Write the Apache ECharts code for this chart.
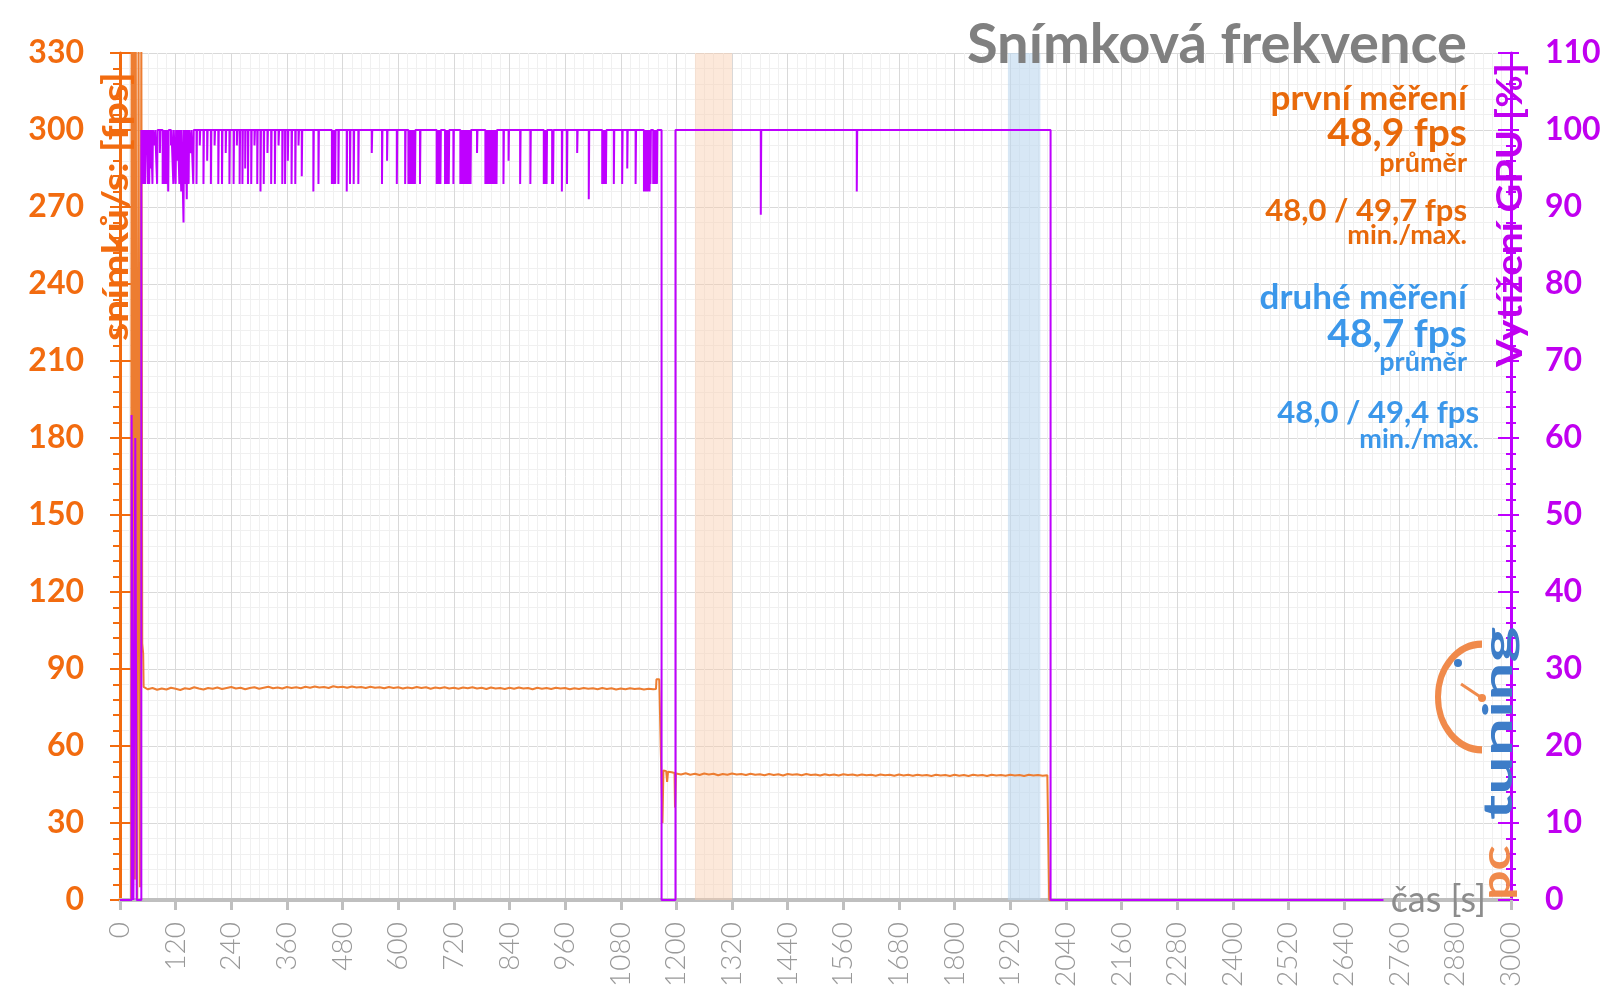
<!DOCTYPE html>
<html><head><meta charset="utf-8">
<script src="https://cdn.jsdelivr.net/npm/echarts@6/dist/echarts.min.js"></script>
<style>html,body{margin:0;padding:0;background:#fff}#c{width:1600px;height:998px}</style>
</head><body><div id="c"></div>
<script>
// ---- data ----
const chartTitle = 'Snímková frekvence';
const xAxisName = 'čas [s]';
const yLeftName = 'snímků/s: [fps]';
const yRightName = 'Vytížení GPU [%]';
const xRange = [0, 3000, 120];
const yLeftRange = [0, 330, 30];
const yRightRange = [0, 110, 10];
const bandFirst = [1240, 1320];
const bandSecond = [1915, 1985];
const firstLabels = ['první měření', '48,9 fps', 'průměr', '48,0 / 49,7 fps', 'min./max.'];
const secondLabels = ['druhé měření', '48,7 fps', 'průměr', '48,0 / 49,4 fps', 'min./max.'];

// frame rate [time s, fps]
const fpsData = [
[0,0],[24,0],[25,335],[27,340],[28,20],[30,340],[32,8],[34,340],[37,0],[40,340],[43,5],[46,340],[48,100],[50,96],[51,83],
[60,82.1],[70,82.6],[80,81.9],[90,82.4],[100,82.0],[110,82.7],[120,82.3],[130,81.8],[140,82.5],[150,82.2],[160,82.9],[170,82.4],[180,82.0],[190,82.6],[200,82.3],[210,82.8],[220,82.2],[230,82.6],[240,83.0],[250,82.4],[260,82.7],[270,82.1],[280,82.6],[290,82.9],[300,82.3],[310,82.7],[320,83.1],[330,82.5],[340,82.8],[350,82.4],[360,83.0],[370,82.6],[380,82.9],[390,82.5],[400,83.1],[410,82.7],[420,83.2],[430,82.8],[440,83.0],[450,82.6],[460,83.3],[470,82.9],[480,83.1],[490,82.7],[500,83.2],[510,82.8],[520,83.0],[530,82.6],[540,83.1],[550,82.7],[560,82.9],[570,82.5],[580,83.0],[590,82.6],[600,82.9],[610,82.4],[620,82.8],[630,82.5],[640,83.0],[650,82.6],[660,82.9],[670,82.3],[680,82.8],[690,82.5],[700,82.9],[710,82.4],[720,82.7],[730,82.3],[740,82.8],[750,82.5],[760,82.9],[770,82.4],[780,82.7],[790,82.2],[800,82.8],[810,82.4],[820,82.6],[830,82.2],[840,82.7],[850,82.3],[860,82.8],[870,82.4],[880,82.6],[890,82.1],[900,82.7],[910,82.3],[920,82.6],[930,82.2],[940,82.7],[950,82.4],[960,82.6],[970,82.1],[980,82.5],[990,82.2],[1000,82.6],[1010,82.3],[1020,82.5],[1030,82.1],[1040,82.6],[1050,82.2],[1060,82.5],[1070,82.0],[1080,82.4],[1090,82.1],[1100,82.5],[1110,82.2],[1120,82.4],[1130,82.0],[1140,82.3],[1150,82.1],[1156,82.2],[1157,86.0],[1163,86.0],[1165,85.5],[1168,45],[1170,30],[1172,50.5],[1178,50.2],[1180,46],[1182,50.0],[1190,49.8],[1196,49.5],[1197,36],[1199,49.3],
[1210,48.9],[1220,49.4],[1230,48.8],[1240,49.2],[1250,48.7],[1260,49.3],[1270,48.9],[1280,49.2],[1290,48.6],[1300,49.1],[1310,48.8],[1320,49.3],[1330,48.9],[1340,49.1],[1350,48.7],[1360,49.2],[1370,48.8],[1380,49.0],[1390,48.6],[1400,49.1],[1410,48.7],[1420,49.0],[1430,48.5],[1440,49.1],[1450,48.8],[1460,49.0],[1470,48.6],[1480,49.1],[1490,48.7],[1500,48.9],[1510,48.5],[1520,49.0],[1530,48.6],[1540,48.9],[1550,48.5],[1560,49.0],[1570,48.7],[1580,48.9],[1590,48.5],[1600,48.9],[1610,48.6],[1620,48.8],[1630,48.4],[1640,48.9],[1650,48.6],[1660,48.8],[1670,48.4],[1680,48.9],[1690,48.5],[1700,48.8],[1710,48.4],[1720,48.8],[1730,48.5],[1740,48.7],[1750,48.3],[1760,48.8],[1770,48.5],[1780,48.7],[1790,48.3],[1800,48.8],[1810,48.4],[1820,48.7],[1830,48.3],[1840,48.8],[1850,48.5],[1860,48.7],[1870,48.3],[1880,48.8],[1890,48.5],[1900,48.7],[1910,48.4],[1920,48.8],[1930,48.5],[1940,48.7],[1950,48.3],[1960,48.8],[1970,48.5],[1980,48.7],[1990,48.4],[2000,48.6],[2003,48.5],[2004,0],[2010,0]
];

// GPU load [time s, %] – each value holds until the next point
const gpuData = [
[0,0],[25,63],[29,0],[33,60],[36,0],[46,100],
[48,93],[49,100],[50,96],[51,100],[52,93],[53,100],[54,93],[55,100],[57,98],[58,100],[60,93],[61,100],[63,93],[64,100],[66,95],[67,100],[70,93],[71,100],[75,98],[76,100],[80,93],[81,100],[86,97],[87,100],[92,93],[93,100],[95,93],[96,100],[98,93],[99,100],[101,93],[102,100],[104,92],[105,100],[110,98],[111,100],[115,93],[116,100],[120,93],[121,100],[124,96],[125,100],[128,93],[129,100],[132,92],[133,100],[137,88],[138,100],[141,93],[142,100],[144,91],[145,100],[148,93],[149,100],[153,97],[154,100],[158,93],[159,100],[165,93],[166,100],[172,98],[173,100],[180,93],[181,100],[188,96],[189,100],[196,93],[197,100],[204,98],[205,100],[212,93],[213,100],[220,93],[221,100],[228,97],[229,100],[236,93],[237,100],[245,93],[246,100],[252,98],[253,100],[258,93],[259,100],[264,93],[265,100],[270,95],[271,100],[276,93],[277,100],[283,93],[284,100],[290,98],[291,100],[296,93],[297,100],[303,92],[304,100],[310,93],[311,100],[318,97],[319,100],[326,93],[327,100],[334,93],[335,100],[342,98],[343,100],[350,93],[351,100],[356,93],[357,100],[362,96],[363,100],[370,93],[371,100],[378,93],[379,100],[385,98],[386,100],
[392,94],[393,100],[417,92],[418,100],[428,93],[429,100],[457,93],[458,100],[460,93],[461,100],[464,93],[465,100],[471,93],[472,100],[489,92],[490,100],[496,93],[497,100],[504,93],[505,100],[514,93],[515,100],[543,97],[544,100],[565,93],[566,100],[576,96],[577,100],[597,93],[598,100],[615,93],[616,100],
[622,93],[623,100],[624,93],[625,100],[626,93],[627,100],[628,93],[629,100],[630,93],[631,100],[632,93],[633,100],[634,93],[635,100],[636,93],[637,100],
[647,93],[648,100],
[683,93],[684,100],[685,93],[686,100],[687,93],[688,100],[689,93],[690,100],[691,93],[692,100],
[701,93],[702,100],[703,93],[704,100],[705,93],[706,100],[707,93],[708,100],[709,93],[710,100],
[719,93],[720,100],
[734,93],[735,100],[736,93],[737,100],[738,93],[739,100],[740,93],[741,100],[742,93],[743,100],[744,93],[745,100],[746,93],[747,100],[748,93],[749,100],[750,93],[751,100],[752,93],[753,100],[754,93],[755,100],[756,93],[757,100],
[770,97],[771,100],
[788,93],[789,100],[790,93],[791,100],[792,93],[793,100],[794,93],[795,100],[796,93],[797,100],[798,93],[799,100],[800,93],[801,100],[802,93],[803,100],[804,93],[805,100],[806,93],[807,100],[808,93],[809,100],[810,93],[811,100],[812,93],[813,100],
[827,93],[828,100],[838,96],[839,100],[863,93],[864,100],[885,93],[886,100],
[914,93],[915,100],[916,93],[917,100],[918,93],[919,100],[920,93],[921,100],
[932,93],[933,100],[934,93],[935,100],[953,92],[954,100],[964,93],[965,100],[986,97],[987,100],[1011,91],[1012,100],
[1040,93],[1041,100],[1042,93],[1043,100],[1044,93],[1045,100],[1046,93],[1047,100],[1048,93],[1049,100],
[1065,93],[1066,100],[1083,93],[1084,100],[1094,95],[1095,100],[1112,93],[1113,100],
[1130,92],[1131,100],[1132,93],[1133,100],[1134,92],[1135,100],[1136,93],[1137,100],[1138,92],[1139,100],[1140,93],[1141,100],[1142,92],[1143,100],[1144,93],[1145,100],
[1150,93],[1151,100],[1154,93],[1155,100],[1158,93],[1159,100],
[1168,0],[1198,100],[1382,89],[1383,100],[1589,92],[1590,100],[2007,0],[2725,0]
];

// ---- styling ----
const C_AX_OR = '#F26B0F';
const C_TXT_OR = '#E8690A';
const C_BLUE = '#3B97EA';
const C_PURPLE = '#C000F0';
const C_GPU = '#BF00FF';
const C_FPS = '#ED7D31';
const FONT = 'Lato';

const chart = echarts.init(document.getElementById('c'), null, {renderer: 'canvas'});

function txt(x, y, text, size, color, align, weight) {
  return {type: 'text', x: x, y: y, z: 50, silent: true,
    style: {text: text, fontFamily: FONT, fontSize: size, fontWeight: weight || 'bold', fill: color,
      textAlign: align || 'right', align: align || 'right', textVerticalAlign: 'middle', verticalAlign: 'middle'}};
}
function vtxt(x, y, text, size, color, sx) {
  return {type: 'text', x: x, y: y, z: 50, silent: true, rotation: Math.PI / 2, scaleX: sx || 1,
    style: {text: text, fontFamily: FONT, fontSize: size, fontWeight: 'bold', fill: color,
      textAlign: 'right', align: 'right', textVerticalAlign: 'middle', verticalAlign: 'middle'}};
}

const graphics = [
  txt(1467, 45, chartTitle, 56, '#808080'),
  txt(1467, 99, firstLabels[0], 35, C_TXT_OR),
  txt(1467, 133, firstLabels[1], 39, C_TXT_OR),
  txt(1467, 163, firstLabels[2], 27, C_TXT_OR),
  txt(1467, 211, firstLabels[3], 31, C_TXT_OR),
  txt(1467, 235, firstLabels[4], 27, C_TXT_OR),
  txt(1467, 298, secondLabels[0], 35, C_BLUE),
  txt(1467, 334, secondLabels[1], 39, C_BLUE),
  txt(1467, 362, secondLabels[2], 27, C_BLUE),
  txt(1479, 413, secondLabels[3], 31, C_BLUE),
  txt(1479, 439, secondLabels[4], 27, C_BLUE),
  txt(1486, 900, xAxisName, 36, '#8C8C8C', 'right', 'normal'),
  vtxt(116, 72, yLeftName, 36, C_AX_OR, 1.15),
  vtxt(1510, 63, yRightName, 36, C_PURPLE, 1.1),
  // logo
  {type: 'arc', x: 1482, y: 697, scaleY: 1.2, z: 40, silent: true,
    shape: {cx: 0, cy: 0, r: 44, startAngle: Math.PI * 0.5, endAngle: Math.PI * 1.5, clockwise: true},
    style: {stroke: '#F08A4B', lineWidth: 6, fill: null}},
  {type: 'line', z: 40, silent: true, shape: {x1: 1461, y1: 684, x2: 1482, y2: 698}, style: {stroke: '#F08A4B', lineWidth: 3}},
  {type: 'circle', z: 40, silent: true, shape: {cx: 1482, cy: 698, r: 4}, style: {fill: '#F08A4B'}},
  {type: 'circle', z: 40, silent: true, shape: {cx: 1458, cy: 663, r: 4}, style: {fill: '#3D7DC8'}},
  {type: 'text', x: 1499, y: 820, z: 40, silent: true, rotation: Math.PI / 2, scaleX: 1.7,
    style: {text: 'tuning', fontFamily: FONT, fontSize: 40, fontWeight: 'bold', fill: '#3D7DC8',
      textAlign: 'left', align: 'left', textVerticalAlign: 'middle', verticalAlign: 'middle'}},
  {type: 'text', x: 1497, y: 900, z: 40, silent: true, rotation: Math.PI / 2, scaleX: 1.3,
    style: {text: 'pc', fontFamily: FONT, fontSize: 40, fontWeight: 'bold', fill: '#F08A4B',
      textAlign: 'left', align: 'left', textVerticalAlign: 'middle', verticalAlign: 'middle'}}
];

const option = {
  animation: false,
  backgroundColor: '#ffffff',
  grid: {left: 120, right: 89, top: 53, bottom: 98, containLabel: false, outerBoundsMode: 'none'},
  xAxis: {
    type: 'value', min: xRange[0], max: xRange[1], interval: xRange[2],
    axisLine: {show: true, lineStyle: {color: '#BFBFBF', width: 4}},
    axisTick: {show: true, length: 10, lineStyle: {color: '#BFBFBF', width: 3}},
    minorTick: {show: false, splitNumber: 6},
    axisLabel: {rotate: 90, margin: 22, fontFamily: FONT, fontWeight: 300, fontSize: 28, color: '#999999',
      formatter: function (v) { return String(v); }},
    splitLine: {show: true, lineStyle: {color: '#D9D9D9', width: 1}},
    minorSplitLine: {show: true, lineStyle: {color: '#F0F0F0', width: 1}}
  },
  yAxis: [
    {
      type: 'value', position: 'left', min: yLeftRange[0], max: yLeftRange[1], interval: yLeftRange[2],
      axisLine: {show: true, lineStyle: {color: C_AX_OR, width: 3}},
      axisTick: {show: true, length: 10, lineStyle: {color: C_AX_OR, width: 2}},
      minorTick: {show: true, splitNumber: 5, length: 7, lineStyle: {color: C_AX_OR, width: 2}},
      axisLabel: {margin: 36, fontFamily: FONT, fontWeight: 'bold', fontSize: 32, color: C_AX_OR},
      splitLine: {show: true, lineStyle: {color: '#D9D9D9', width: 1}},
      minorSplitLine: {show: true, lineStyle: {color: '#F0F0F0', width: 1}}
    },
    {
      type: 'value', position: 'right', min: yRightRange[0], max: yRightRange[1], interval: yRightRange[2],
      axisLine: {show: true, lineStyle: {color: C_GPU, width: 3}},
      axisTick: {show: true, length: 8, lineStyle: {color: C_GPU, width: 2}},
      minorTick: {show: true, splitNumber: 5, length: 5, lineStyle: {color: C_GPU, width: 2}},
      axisLabel: {margin: 34, fontFamily: FONT, fontWeight: 'bold', fontSize: 32, color: C_PURPLE},
      splitLine: {show: false}
    },
    {
      type: 'value', position: 'left', min: yLeftRange[0], max: yLeftRange[1], interval: yLeftRange[2],
      axisLine: {show: false},
      axisTick: {show: true, inside: true, length: 12, lineStyle: {color: C_AX_OR, width: 2}},
      axisLabel: {show: false}, splitLine: {show: false}
    },
    {
      type: 'value', position: 'right', min: yRightRange[0], max: yRightRange[1], interval: yRightRange[2],
      axisLine: {show: false},
      axisTick: {show: true, inside: true, length: 13, lineStyle: {color: C_GPU, width: 2}},
      minorTick: {show: true, splitNumber: 5, length: 5, lineStyle: {color: C_GPU, width: 2}},
      axisLabel: {show: false}, splitLine: {show: false}
    }
  ],
  series: [
    {
      name: 'fps', type: 'line', yAxisIndex: 0, data: fpsData, showSymbol: false, symbol: 'none',
      lineStyle: {color: C_FPS, width: 2}, clip: true, z: 3,
      markArea: {
        silent: true,
        data: [
          [{xAxis: bandFirst[0], itemStyle: {color: 'rgba(248,203,173,0.45)'}}, {xAxis: bandFirst[1]}],
          [{xAxis: bandSecond[0], itemStyle: {color: 'rgba(189,215,238,0.6)'}}, {xAxis: bandSecond[1]}]
        ]
      }
    },
    {
      name: 'gpu', type: 'line', yAxisIndex: 1, data: gpuData, step: 'end', showSymbol: false, symbol: 'none',
      lineStyle: {color: C_GPU, width: 2}, clip: true, z: 4
    }
  ],
  graphic: graphics
};
chart.setOption(option);
</script></body></html>
